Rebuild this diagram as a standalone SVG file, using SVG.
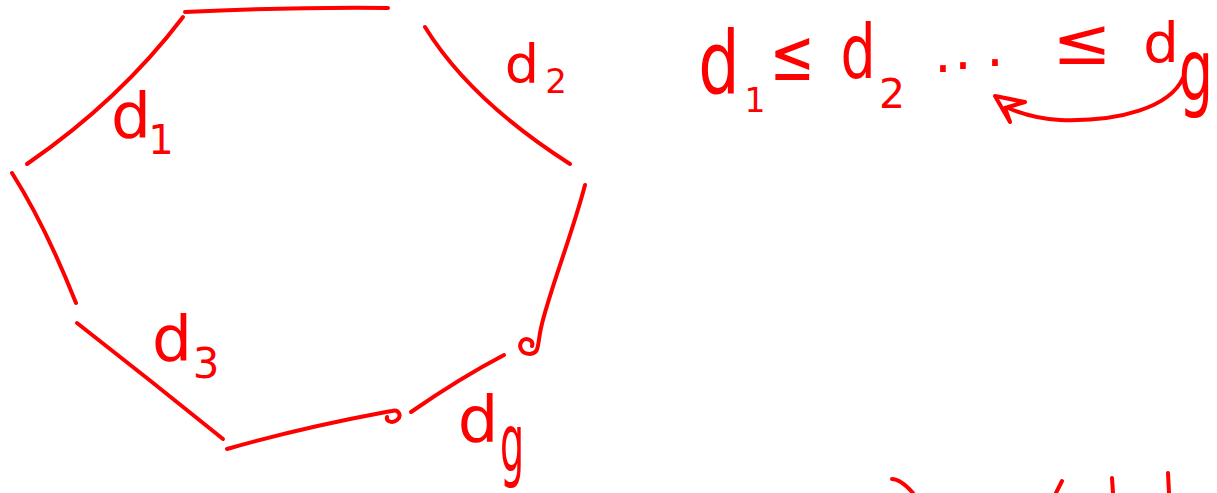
<svg xmlns="http://www.w3.org/2000/svg" width="1217" height="493" viewBox="0 0 1217 493">
<style>
.s{fill:none;stroke:#ff0000;stroke-width:4;stroke-linecap:round;stroke-linejoin:round}
.t{fill:#ff0000;font-family:"DejaVu Sans",sans-serif;text-anchor:middle}
</style>
<rect width="1217" height="493" fill="#ffffff"/>
<g id="edges">
<path class="s" d="M27,164 Q120,100 183,17"/>
<path class="s" d="M185,12 Q290,7 388,8"/>
<path class="s" d="M425,27 Q470,100 570,164"/>
<path class="s" d="M585,185 C572,235 548,295 541,328 C537,345 540,353 530,354 C521,354 518,346 522,341 C526,337 534,340 532,346"/>
<path class="s" d="M411,412 Q460,378 504,355"/>
<path class="s" d="M227,449 Q300,428 386,412 L392,411 C399,409 402,416 397,420 C392,424 386,421 387,417"/>
<path class="s" d="M77,323 Q150,380 223,439"/>
<path class="s" d="M12,173 Q45,225 76,303"/>
</g>
<g id="label-d1">
<text class="t" font-size="63" x="131" y="137">d</text>
<text class="t" font-size="40" x="161" y="154">1</text>
</g>
<g id="label-d2">
<text class="t" font-size="54" x="522" y="83">d</text>
<text class="t" font-size="34" x="556" y="93">2</text>
</g>
<g id="label-d3">
<text class="t" font-size="63" x="172" y="360">d</text>
<text class="t" font-size="42" x="206" y="378">3</text>
</g>
<g id="label-dg">
<text class="t" font-size="64" x="478" y="442">d</text>
<text class="t" font-size="38" transform="translate(512,471) scale(1,2.1)">g</text>
</g>
<g id="formula">
<text class="t" font-size="87" transform="translate(719,93) scale(0.75,1)">d</text>
<text class="t" font-size="33" x="755" y="112">1</text>
<text class="t" font-size="72" transform="translate(792,80) scale(0.75,1)">≤</text>
<text class="t" font-size="74" transform="translate(858,78) scale(0.75,1)">d</text>
<text class="t" font-size="41" x="892" y="108">2</text>
<text class="t" font-size="55" x="943" y="72">.</text>
<text class="t" font-size="55" x="963" y="69">.</text>
<text class="t" font-size="55" x="995" y="66">.</text>
<text class="t" font-size="65" transform="translate(1082,64) scale(1.1,1)">≤</text>
<text class="t" font-size="56" x="1161" y="62">d</text>
<text class="t" font-size="50" transform="translate(1196,100) scale(1.08,1.7)">g</text>
</g>
<g id="arrow">
<path class="s" d="M1183,78 C1170,107 1120,122 1060,120 C1040,119 1022,114 1008,108"/>
<path class="s" d="M1025,102 L995,96 L1010,122 L1005,108 Z"/>
</g>
<g id="fragments">
<path class="s" d="M892,479 C898,479 905,484 913,493"/>
<path class="s" d="M1062,481 L1056,493"/>
<path class="s" d="M1112,478 L1113,493"/>
<path class="s" d="M1168,473 L1169,493"/>
</g>
</svg>
